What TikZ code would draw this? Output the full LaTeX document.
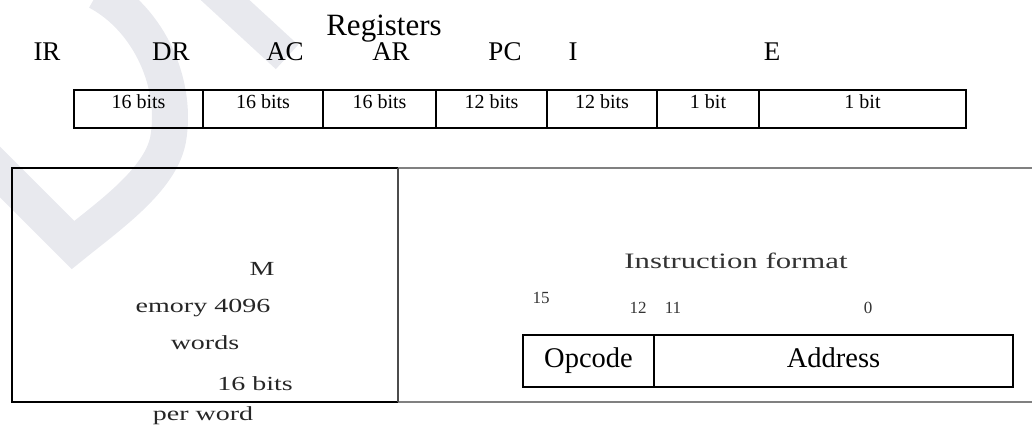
\documentclass[tikz,border=0pt]{standalone}
\usepackage{fontspec}
\setmainfont{Liberation Serif}
\usepackage{graphicx}
\usepackage{tikz}
\usetikzlibrary{positioning}

\definecolor{wmgrey}{RGB}{232,233,238}
\definecolor{rulegrey}{RGB}{128,128,128}
\newcommand{\stretchtxt}[1]{\scalebox{1.4}[1]{#1}}

\tikzset{
  regname/.style={anchor=base,inner sep=0pt,font=\fontsize{27}{30}\selectfont},
  regcell/.style={draw,line width=2pt,outer sep=0pt,inner sep=0pt,minimum height=38pt,
    text height=18pt,text depth=20pt,font=\fontsize{20}{22}\selectfont},
  memtext/.style={anchor=base,inner sep=0pt,text=black!85,font=\fontsize{20}{22}\selectfont},
  bitnum/.style={anchor=base,inner sep=0pt,text=black!80,font=\fontsize{17}{19}\selectfont},
  fieldcell/.style={draw,line width=2pt,outer sep=0pt,inner sep=0pt,minimum height=52pt,
    text height=32pt,text depth=20pt,font=\fontsize{28.5}{31}\selectfont}
}

\begin{document}
\begin{tikzpicture}[x=1pt,y=-1pt]
\useasboundingbox (0,0) rectangle (1032,426);
\clip (0,0) rectangle (1032,426);

% watermark
\draw[wmgrey,line width=36pt,line join=miter] (98,-8) .. controls (150,20) and (178,85) .. (168,140)
  .. controls (160,180) and (110,215) .. (73,245) -- (-20,152);
\draw[wmgrey,line width=33pt] (212,-12) -- (287,57);

% registers
\node[anchor=base,inner sep=0pt,font=\fontsize{31}{34}\selectfont] (regtitle) at (384,35) {Registers};

\node[regname] (ir) at (47,60) {IR};
\node[regname] (dr) at (171,60) {DR};
\node[regname] (ac) at (285,60) {AC};
\node[regname] (ar) at (391,60) {AR};
\node[regname] (pc) at (505,60) {PC};
\node[regname] (i) at (573,60) {I};
\node[regname] (e) at (772,60) {E};

\node[regcell,minimum width=129pt,anchor=north west] (r1) at (74,90) {16 bits};
\node[regcell,minimum width=120pt,right=0pt of r1] (r2) {16 bits};
\node[regcell,minimum width=113pt,right=0pt of r2] (r3) {16 bits};
\node[regcell,minimum width=111pt,right=0pt of r3] (r4) {12 bits};
\node[regcell,minimum width=110pt,right=0pt of r4] (r5) {12 bits};
\node[regcell,minimum width=102pt,right=0pt of r5] (r6) {1 bit};
\node[regcell,minimum width=207pt,right=0pt of r6] (r7) {1 bit};

% memory and instruction panel
\coordinate (mtl) at (12,168);
\coordinate (mtr) at (398,168);
\coordinate (mbl) at (12,402);
\coordinate (mbr) at (398,402);

\draw[rulegrey,line width=1.5pt] (mtr) -- (1032,168);
\draw[rulegrey,line width=1.5pt] (mbr) -- (1032,402);
\draw[line width=1.5pt] (mtr) -- (mtl) -- (mbl) -- (mbr);
\draw[black!70,line width=1.5pt] (mtr) -- (mbr);

\node[memtext] (m1) at (262,275) {\stretchtxt{M}};
\node[memtext] (m2) at (203,312) {\stretchtxt{emory 4096}};
\node[memtext] (m3) at (205,349) {\stretchtxt{words}};
\node[memtext] (m4) at (255,390) {\stretchtxt{16 bits}};
\node[memtext] (m5) at (203,420) {\stretchtxt{per word}};

\node[anchor=base,inner sep=0pt,text=black!80,font=\fontsize{22}{24}\selectfont] (fmt) at (736,268) {\stretchtxt{Instruction format}};

\node[bitnum] (b15) at (541,303) {15};
\node[bitnum] (b12) at (638,313) {12};
\node[bitnum] (b11) at (673,313) {11};
\node[bitnum] (b0) at (868,313) {0};

\node[fieldcell,minimum width=131pt,anchor=north west] (opc) at (523,335) {Opcode};
\node[fieldcell,minimum width=359pt,right=0pt of opc] (adr) {Address};
\end{tikzpicture}
\end{document}
